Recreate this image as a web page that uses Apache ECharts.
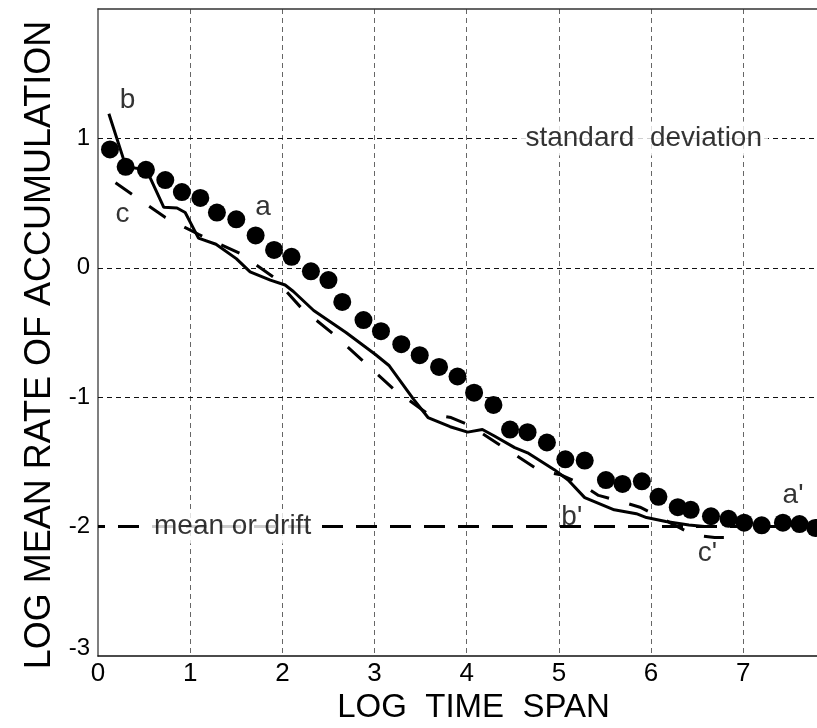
<!DOCTYPE html>
<html>
<head>
<meta charset="utf-8">
<script src="https://cdn.jsdelivr.net/npm/echarts@6/dist/echarts.min.js"></script>
<style>html,body{margin:0;padding:0;background:#fff}#chart{width:817px;height:728px}</style>
</head>
<body>
<div id="chart"></div>
<script>
// ---- data ----
// a : filled circles
const aX = [0.13,0.30,0.52,0.73,0.91,1.11,1.29,1.50,1.71,1.91,2.10,2.31,2.50,2.65,2.88,3.07,3.29,3.49,3.70,3.90,4.08,4.29,4.47,4.66,4.87,5.07,5.28,5.51,5.69,5.90,6.08,6.29,6.43,6.65,6.84,7.01,7.20,7.43,7.61,7.78];
const aY = [0.915,0.78,0.757,0.678,0.585,0.54,0.427,0.375,0.25,0.138,0.085,-0.027,-0.095,-0.264,-0.404,-0.49,-0.59,-0.675,-0.766,-0.84,-0.965,-1.06,-1.25,-1.27,-1.35,-1.48,-1.49,-1.64,-1.67,-1.65,-1.77,-1.85,-1.87,-1.92,-1.94,-1.97,-1.99,-1.97,-1.98,-2.01];
// b : solid line
const bX = [0.118,0.304,0.518,0.57,0.714,0.857,0.946,1.09,1.28,1.50,1.65,1.87,2.03,2.12,2.34,2.69,3.01,3.16,3.42,3.58,3.82,4.01,4.17,4.30,4.52,4.66,4.95,5.10,5.28,5.60,5.84,5.95,6.16,6.41,6.58];
const bY = [1.19,0.78,0.76,0.69,0.467,0.462,0.427,0.229,0.182,0.071,-0.032,-0.095,-0.133,-0.183,-0.33,-0.50,-0.67,-0.757,-1.013,-1.157,-1.228,-1.27,-1.25,-1.30,-1.39,-1.43,-1.56,-1.64,-1.776,-1.87,-1.90,-1.93,-1.96,-1.987,-2.0];
// c : long-dashed line
const cX = [0.19,0.732,1.09,1.54,1.90,2.21,2.55,2.88,3.20,3.58,3.83,4.03,4.41,4.79,5.02,5.23,5.43,5.64,5.88,6.06,6.46,6.69,6.90];
const cY = [0.657,0.388,0.259,0.111,-0.070,-0.314,-0.51,-0.724,-0.932,-1.13,-1.157,-1.217,-1.392,-1.568,-1.60,-1.667,-1.759,-1.80,-1.85,-1.916,-2.064,-2.085,-2.085];
// reference levels
const meanLevel = -2;
const meanX = [0, 7.8];
const gridLevels = [1, 0, -1];
// annotations
const annText = ['b', 'c', 'a', "a'", "b'", "c'"];
const annX = [0.32, 0.265, 1.79, 7.54, 5.14, 6.61];
const annY = [1.295, 0.417, 0.464, -1.76, -1.93, -2.21];
const sdText = 'standard  deviation';
const sdX = 5.92;
const meanText = 'mean or drift';
const meanTextX = 1.46;
const xTitle = 'LOG  TIME  SPAN';
const yTitle = 'LOG MEAN RATE OF ACCUMULATION';

const zip = (xs, ys) => xs.map((x, i) => [x, ys[i]]);
const SANS = "'Liberation Sans', Arial, sans-serif";

const chart = echarts.init(document.getElementById('chart'), null, {renderer: 'canvas'});
chart.setOption({
  animation: false,
  backgroundColor: '#fff',
  grid: {left: 98, right: 0, top: 9, bottom: 72, containLabel: false, outerBoundsMode: 'none'},
  xAxis: [{
    type: 'value', min: 0, max: 7.8, interval: 1, position: 'bottom',
    axisLine: {show: true, onZero: false, lineStyle: {color: '#111', width: 1.5}},
    axisTick: {show: false},
    splitLine: {show: true, showMinLine: false, showMaxLine: false, lineStyle: {color: '#666', width: 1, type: [5, 4]}},
    axisLabel: {fontFamily: SANS, fontSize: 26, color: '#000', margin: 5, showMaxLabel: false},
    name: xTitle, nameLocation: 'middle', nameGap: 26,
    nameTextStyle: {fontFamily: SANS, fontSize: 33, color: '#000', padding: [0, 0, 0, 32]}
  }, {
    type: 'value', min: 0, max: 7.8, position: 'top',
    axisLine: {show: true, onZero: false, lineStyle: {color: '#333', width: 1.5}},
    axisTick: {show: false}, axisLabel: {show: false}, splitLine: {show: false}
  }],
  yAxis: {
    type: 'value', min: -3, max: 2, interval: 1,
    axisLine: {show: true, onZero: false, lineStyle: {color: '#555', width: 1.5}},
    axisTick: {show: false},
    splitLine: {show: false},
    axisLabel: {
      fontFamily: SANS, fontSize: 24, color: '#000', margin: 8, showMaxLabel: false,
      formatter: v => v === -3 ? '{up|-3}' : String(v),
      rich: {up: {fontFamily: SANS, fontSize: 24, color: '#000', padding: [0, 0, 16, 0]}}
    },
    name: yTitle, nameLocation: 'middle', nameGap: 40,
    nameTextStyle: {fontFamily: SANS, fontSize: 36, color: '#000', padding: [0, 25, 0, 0]}
  },
  series: [
    {
      type: 'line', data: [], silent: true,
      markLine: {
        silent: true, symbol: 'none', animation: false,
        label: {show: false},
        lineStyle: {color: '#111', width: 1, type: [5, 4]},
        data: gridLevels.map(v => ({yAxis: v}))
      }
    },
    {
      name: 'c', type: 'line', data: zip(cX, cY), symbol: 'none', silent: true,
      lineStyle: {color: '#000', width: 3, type: [20, 21], dashOffset: 0, opacity: 1}
    },
    {
      name: 'mean', type: 'line', data: meanX.map(x => [x, meanLevel]), symbol: 'none', silent: true,
      lineStyle: {color: '#000', width: 3, type: [21, 13], dashOffset: 14, opacity: 1}
    },
    {
      name: 'b', type: 'line', data: zip(bX, bY), symbol: 'none', silent: true,
      lineStyle: {color: '#000', width: 3, opacity: 1}
    },
    {
      name: 'a', type: 'scatter', data: zip(aX, aY), symbol: 'circle', symbolSize: 18, silent: true,
      itemStyle: {color: '#000', opacity: 1}, z: 5
    },
    {
      name: 'labels', type: 'scatter', z: 10, silent: true, symbolSize: 1,
      itemStyle: {color: 'rgba(0,0,0,0)'},
      data: annText.map((t, i) => [annX[i], annY[i], t])
        .concat([[sdX, gridLevels[0], sdText, 'bg'], [meanTextX, meanLevel, meanText, 'bg']]),
      label: {
        show: true, position: 'inside', color: '#000', fontFamily: SANS, fontSize: 28,
        formatter: p => p.data[3] ? '{bg|' + p.data[2] + '}' : p.data[2],
        rich: {bg: {fontFamily: SANS, fontSize: 28, color: '#000', backgroundColor: '#fff', padding: [3, 6], lineHeight: 34}}
      }
    }
  ]
});
</script>
</body>
</html>
